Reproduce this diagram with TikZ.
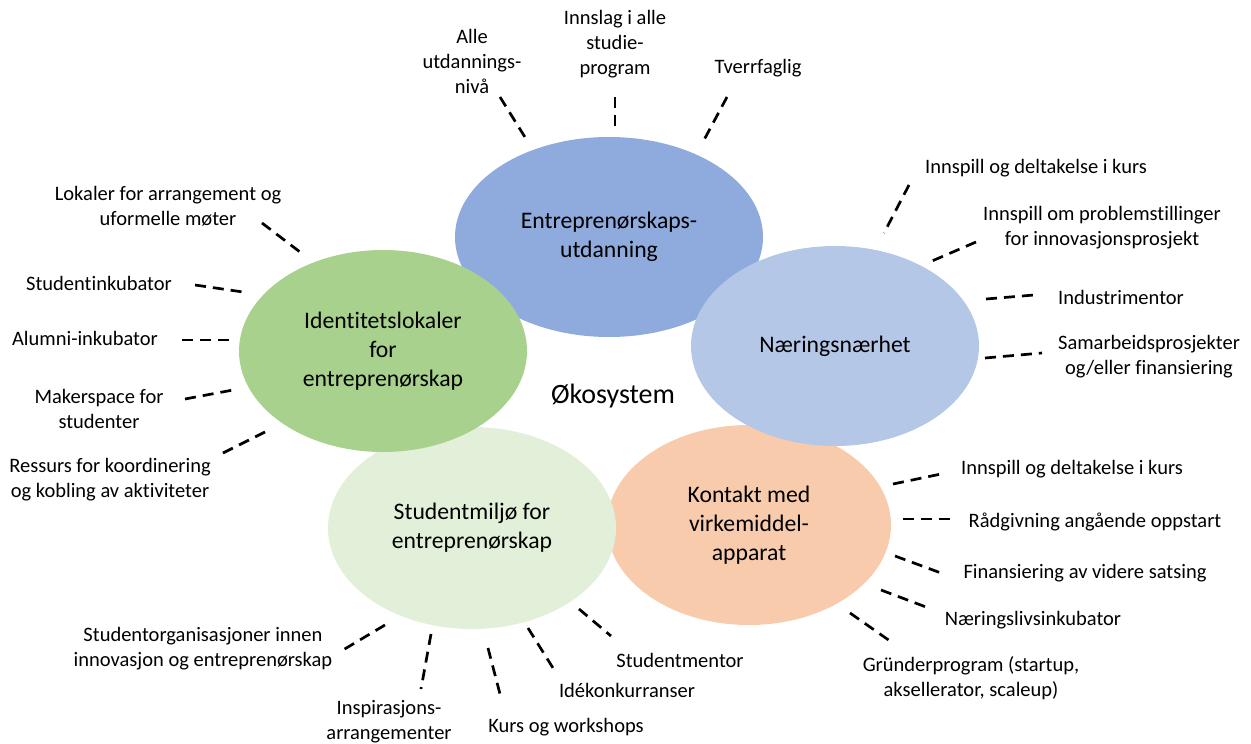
\documentclass[tikz,border=0pt]{standalone}
\usepackage{fontspec}
\setmainfont[Ligatures=NoCommon]{Carlito}
\usetikzlibrary{shapes.geometric}
\definecolor{cBlue}{HTML}{8FAADC}
\definecolor{cLBlue}{HTML}{B4C7E7}
\definecolor{cGreen}{HTML}{A9D18E}
\definecolor{cLGreen}{HTML}{E2F0D9}
\definecolor{cOrange}{HTML}{F8CBAD}
\begin{document}
\begin{tikzpicture}[x=1pt,y=-1pt,
  bubble/.style={ellipse, inner sep=0pt, align=center, text=black, font=\fontsize{23.7}{29}\selectfont},
  lab/.style={inner sep=0pt, align=center, text=black, font=\fontsize{20.5}{25}\selectfont},
  dsh/.style={line width=2.7pt, dash pattern=on 11pt off 7pt}]
\useasboundingbox (0,0) rectangle (1251,744);
% ellipses (back to front)
\node[bubble, fill=cOrange, minimum width=284pt, minimum height=200pt] (kon) at (749,525) {Kontakt med\\virkemiddel-\\apparat};
\node[bubble, fill=cBlue, minimum width=308pt, minimum height=200pt] (edu) at (609,237) {Entreprenørskaps-\\utdanning};
\node[bubble, fill=cLGreen, minimum width=288pt, minimum height=202pt] (stu) at (472,528) {Studentmiljø for\\entreprenørskap};
\node[bubble, fill=cGreen, minimum width=288pt, minimum height=202pt] (ide) at (383,351) {Identitetslokaler\\for\\entreprenørskap};
\node[bubble, fill=cLBlue, minimum width=288pt, minimum height=200pt] (nae) at (835,346) {Næringsnærhet};
\node[inner sep=0pt, font=\fontsize{28}{34}\selectfont] (oko) at (613,396) {Økosystem};
% top labels
\node[lab] (t1) at (472,61) {Alle\\utdannings-\\nivå};
\node[lab] (t2) at (615,44) {Innslag i alle\\studie-\\program};
\node[lab] (t3) at (758,68) {Tverrfaglig};
% right upper labels
\node[lab] (r1) at (1036,168) {Innspill og deltakelse i kurs};
\node[lab] (r2) at (1102,228) {Innspill om problemstillinger\\for innovasjonsprosjekt};
\node[lab] (r3) at (1121,297) {Industrimentor};
\node[lab] (r4) at (1149,357) {Samarbeidsprosjekter\\og/eller finansiering};
% right lower labels
\node[lab] (o1) at (1072,469) {Innspill og deltakelse i kurs};
\node[lab] (o2) at (1095,522) {Rådgivning angående oppstart};
\node[lab] (o3) at (1085,573) {Finansiering av videre satsing};
\node[lab] (o4) at (1033,620) {Næringslivsinkubator};
\node[lab] (o5) at (971,678) {Gründerprogram (startup,\\aksellerator, scaleup)};
% bottom labels
\node[lab] (b1) at (680,660) {Studentmentor};
\node[lab] (b2) at (627,690) {Idékonkurranser};
\node[lab] (b3) at (566,727) {Kurs og workshops};
\node[lab] (b4) at (389,722) {Inspirasjons-\\arrangementer};
\node[lab] (b5) at (203,649) {Studentorganisasjoner innen\\innovasjon og entreprenørskap};
% left labels
\node[lab] (l1) at (168,206) {Lokaler for arrangement og\\uformelle møter};
\node[lab] (l2) at (99,283) {Studentinkubator};
\node[lab] (l3) at (85,338) {Alumni-inkubator};
\node[lab] (l4) at (99,409) {Makerspace for\\studenter};
\node[lab] (l5) at (110,480) {Ressurs for koordinering\\og kobling av aktiviteter};
% dash end points
\coordinate (t1a) at (500,97);  \coordinate (t1b) at (528,142);
\coordinate (t2a) at (615,97);  \coordinate (t2b) at (615,128);
\coordinate (t3a) at (727,97);  \coordinate (t3b) at (704,140);
\coordinate (r1a) at (909,185); \coordinate (r1b) at (884,233);
\coordinate (r2a) at (976,242); \coordinate (r2b) at (932,261);
\coordinate (r3a) at (986,299); \coordinate (r3b) at (1034,295);
\coordinate (r4a) at (985,358); \coordinate (r4b) at (1042,353);
\coordinate (o1a) at (893,484); \coordinate (o1b) at (941,474);
\coordinate (o2a) at (903,519); \coordinate (o2b) at (951,519);
\coordinate (o3a) at (895,556); \coordinate (o3b) at (941,573);
\coordinate (o4a) at (881,590); \coordinate (o4b) at (926,607);
\coordinate (o5a) at (850,613); \coordinate (o5b) at (890,641);
\coordinate (b1a) at (579,609); \coordinate (b1b) at (611,636);
\coordinate (b2a) at (528,628); \coordinate (b2b) at (553,668);
\coordinate (b3a) at (488,648); \coordinate (b3b) at (500,694);
\coordinate (b4a) at (431,634); \coordinate (b4b) at (421,689);
\coordinate (b5a) at (385,625); \coordinate (b5b) at (343,650);
\coordinate (l1a) at (262,223); \coordinate (l1b) at (300,252);
\coordinate (l2a) at (195,285); \coordinate (l2b) at (243,292);
\coordinate (l3a) at (182,340); \coordinate (l3b) at (229,340);
\coordinate (l4a) at (185,399); \coordinate (l4b) at (233,390);
\coordinate (l5a) at (223,453); \coordinate (l5b) at (267,431);
\foreach \d in {t1,t2,t3,r1,r2,r3,r4,o1,o2,o3,o4,o5,b1,b2,b3,b4,b5,l1,l2,l3,l4,l5}
  \draw[dsh] (\d a) -- (\d b);
\end{tikzpicture}
\end{document}
